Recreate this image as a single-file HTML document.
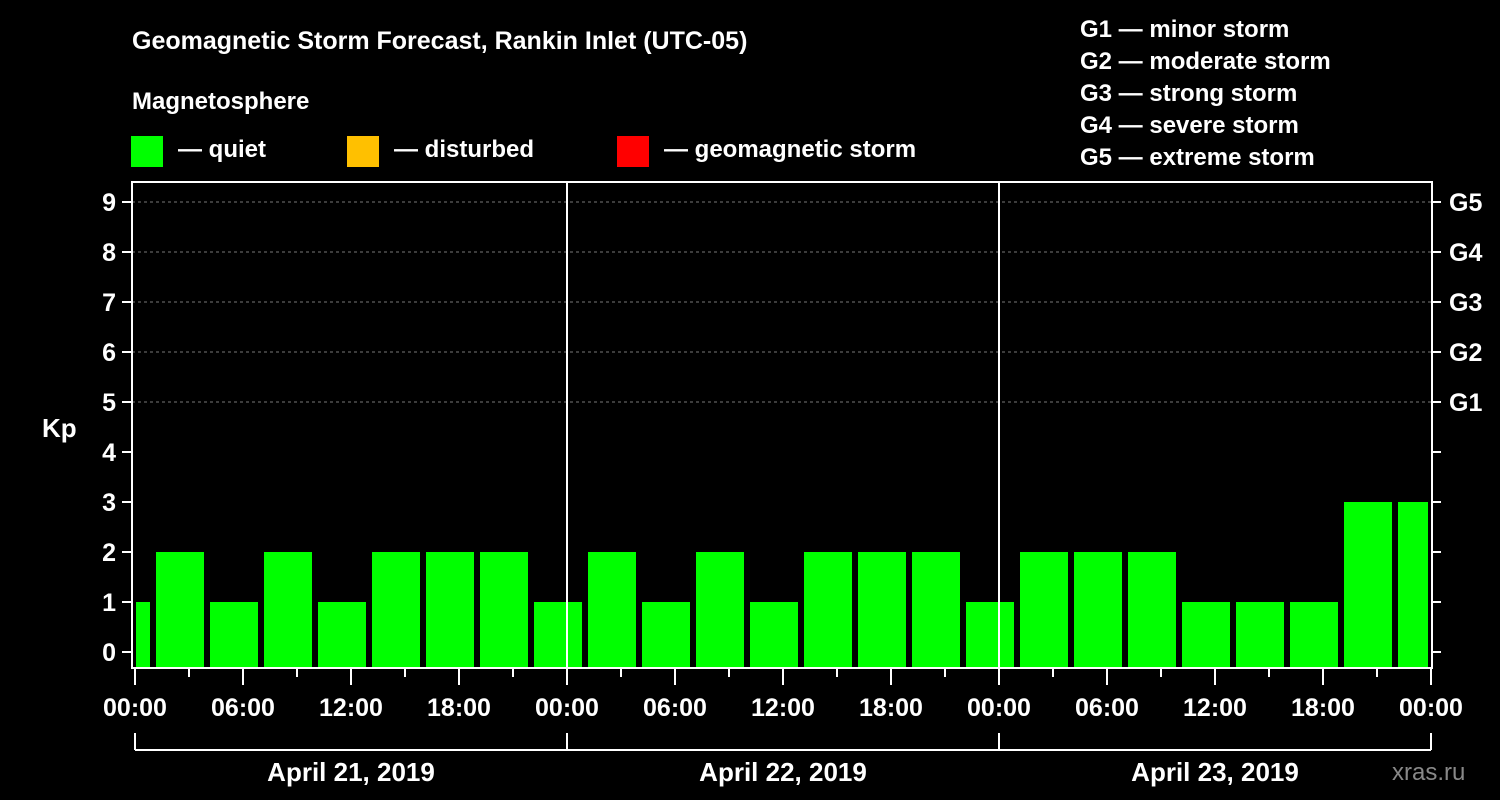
<!DOCTYPE html>
<html><head><meta charset="utf-8"><style>
body{margin:0;background:#000;}
svg{display:block;font-family:"Liberation Sans",sans-serif;font-weight:bold;}
</style></head><body>
<svg width="1500" height="800">
<text x="132" y="49" fill="#fff" font-size="25">Geomagnetic Storm Forecast, Rankin Inlet (UTC-05)</text>
<text x="132" y="109" fill="#fff" font-size="24">Magnetosphere</text>
<g><rect x="131" y="136" width="32" height="31" fill="#00ff00"/><text x="178" y="157" fill="#fff" font-size="24">— quiet</text></g>
<g><rect x="347" y="136" width="32" height="31" fill="#ffc000"/><text x="394" y="157" fill="#fff" font-size="24">— disturbed</text></g>
<g><rect x="617" y="136" width="32" height="31" fill="#ff0000"/><text x="664" y="157" fill="#fff" font-size="24">— geomagnetic storm</text></g>
<g fill="#fff" font-size="24">
<text x="1080" y="37">G1 — minor storm</text><text x="1080" y="69">G2 — moderate storm</text><text x="1080" y="101">G3 — strong storm</text><text x="1080" y="133">G4 — severe storm</text><text x="1080" y="165">G5 — extreme storm</text></g>
<text x="42" y="437" fill="#fff" font-size="26">Kp</text>
<g id="plot"></g>
<text x="1392" y="780" fill="#888" font-size="24" font-weight="normal">xras.ru</text>
</svg>
<script>
const kpValues=[1,2,1,2,1,2,2,2,1,2,1,2,1,2,2,2,1,2,2,2,1,1,1,3,3];
const yTicks=[0,1,2,3,4,5,6,7,8,9];
const gLabels=["G1","G2","G3","G4","G5"];
const dateLabels=["April 21, 2019","April 22, 2019","April 23, 2019"];
const hourLabels=["00:00","06:00","12:00","18:00"];
const X0=135,PX_H=18,L=132,R=1432,T=182,B=668;
const xs=h=>X0+h*PX_H;
const ys=v=>652-v*50;
const ns="http://www.w3.org/2000/svg";
const g=document.getElementById('plot');
function mk(t,a,txt){const e=document.createElementNS(ns,t);for(const k in a)e.setAttribute(k,a[k]);if(txt!==undefined)e.textContent=txt;g.appendChild(e);return e;}
yTicks.forEach(v=>{
 if(v>=5){const gl=mk('line',{x1:L,x2:R,y1:ys(v),y2:ys(v),stroke:'#777','stroke-dasharray':'3,3'});
 
 }
 mk('line',{x1:L-10,x2:L,y1:ys(v),y2:ys(v),stroke:'#fff','stroke-width':2});
 mk('line',{x1:R,x2:R+9,y1:ys(v),y2:ys(v),stroke:'#fff','stroke-width':2});
 const t=mk('text',{x:L-16,y:ys(v)+9,fill:'#fff','font-size':25,'text-anchor':'end'},String(v));
 
 
});
gLabels.forEach((s,i)=>{const t=mk('text',{x:1449,y:ys(i+5)+9,fill:'#fff','font-size':25},s);
 
 });
kpValues.forEach((v,i)=>{
 const h=-2+3*i;
 let a=Math.max(xs(h)+3,X0+1),b=Math.min(xs(h)+51,xs(72)-3);
 const c=v>=5?'#ff0000':(v>=4?'#ffc000':'#00ff00');
 const r=mk('rect',{x:a,y:ys(v),width:b-a,height:B-1-ys(v),fill:c});
 
 
});
for(let d=1;d<3;d++)mk('line',{x1:xs(24*d),x2:xs(24*d),y1:T,y2:B,stroke:'#fff','stroke-width':2});
const fr=mk('rect',{x:L,y:T,width:R-L,height:B-T,fill:'none',stroke:'#fff','stroke-width':2});


for(let h=0;h<=72;h+=3){const major=h%6==0;mk('line',{x1:xs(h),x2:xs(h),y1:B,y2:B+(major?17:9),stroke:'#fff','stroke-width':2});}
for(let h=0;h<=72;h+=6){const t=mk('text',{x:xs(h),y:716,fill:'#fff','font-size':25,'text-anchor':'middle'},hourLabels[(h/6)%4]);
 
 }
mk('line',{x1:xs(0),x2:xs(72),y1:750,y2:750,stroke:'#fff','stroke-width':2});
for(let d=0;d<=3;d++)mk('line',{x1:xs(24*d),x2:xs(24*d),y1:733,y2:750,stroke:'#fff','stroke-width':2});
dateLabels.forEach((s,i)=>{const t=mk('text',{x:xs(24*i+12),y:781,fill:'#fff','font-size':26,'text-anchor':'middle'},s);
 
 });
</script>
</body></html>
